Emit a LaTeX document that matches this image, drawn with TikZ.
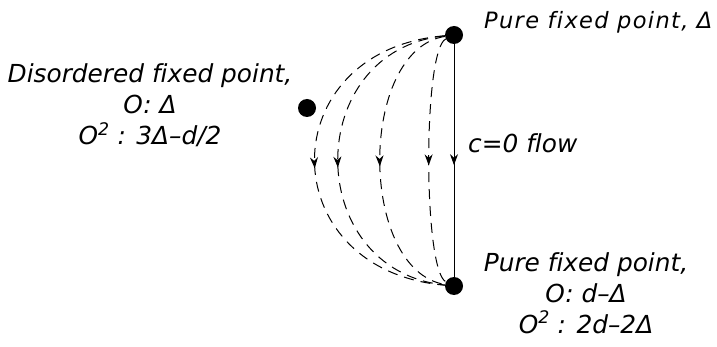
\documentclass[tikz,border=0pt]{standalone}
\usepackage{fontspec}
\setmainfont[Ligatures=NoCommon]{DejaVu Sans}
\usetikzlibrary{arrows.meta,decorations.markings}
\tikzset{
    fixedpt/.style={circle,fill=black,inner sep=0pt,minimum size=18pt},
    lbl/.style={font=\fontsize{24.8}{31}\selectfont\itshape,align=center,inner sep=0pt},
    midarrow/.style={postaction={decorate},decoration={markings,
        mark=at position 0.52 with {\arrow{Stealth[length=11pt,width=8pt]}}}},
    flow/.style={dash pattern=on 10pt off 7pt,line width=1pt,midarrow},
}
\begin{document}
\begin{tikzpicture}[x=1pt,y=-1pt]
        \useasboundingbox (0,0) rectangle (717,347);
        \node[fixedpt] (pure) at (454,35) {};
        \node[fixedpt] (ir) at (454,286) {};
        \node[fixedpt] (dis) at (307,108) {};
        \node[lbl,anchor=base west,font=\fontsize{22.5}{27}\selectfont\itshape\addfontfeatures{LetterSpace=6}] (pureL) at (484,29) {Pure fixed point, Δ};
        % base of a multi-line node is its last line
        \node[lbl,anchor=base] (disL) at (150,145) {Disordered fixed point,\\O: Δ\\O\textsuperscript{2} : 3Δ–d/2};
        \node[lbl,anchor=base] (irL) at (586,333) {Pure fixed point,\\O: d–Δ\\O\textsuperscript{2} : 2d–2Δ};
        \node[lbl,anchor=base west] (flowL) at (468,153) {c=0 flow};
        \draw[line width=1pt,midarrow] (pure) -- (ir);
        \foreach \a in {271,302,358,423}
            \draw[flow] (pure) .. controls (\a,50) and (\a,270) .. (ir);
    \end{tikzpicture}
\end{document}
